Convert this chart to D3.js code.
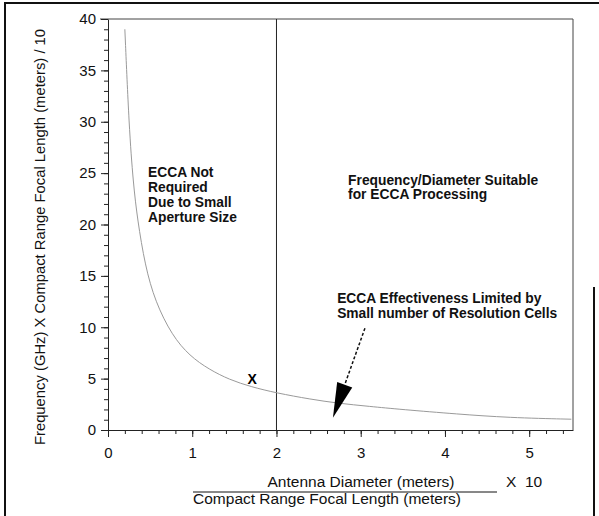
<!DOCTYPE html>
<html>
<head>
<meta charset="utf-8">
<script src="https://cdn.jsdelivr.net/npm/d3@7"></script>
<style>
  html, body { margin: 0; padding: 0; background: #fff; }
  svg { display: block; font-family: "Liberation Sans", Arial, sans-serif; }
</style>
</head>
<body>
<svg id="chart" width="599" height="516"></svg>
<script>
/* datos */
const curveX = [0.2, 0.25, 0.3, 0.35, 0.44, 0.56, 0.76, 0.97, 1.2, 1.44, 1.7, 2.0, 2.4, 2.73, 3.1, 3.48, 4.15, 4.75, 5.5]
const curveY = [39, 29.5, 24, 20.5, 16.0, 12.5, 9.2, 7.2, 5.9, 4.9, 4.2, 3.6, 3.0, 2.6, 2.3, 2.0, 1.55, 1.2, 1.05]
const xTicks = [0, 1, 2, 3, 4, 5]
const yTicks = [0, 5, 10, 15, 20, 25, 30, 35, 40]
const boundaryX = 2
const markX = [1.71]
const markY = [5.0]
const arrowFrom = [3.05, 9.9]
const arrowTo = [2.67, 1.2]
const leftNote = ['ECCA Not', 'Required', 'Due to Small', 'Aperture Size']
const rightNote = ['Frequency/Diameter Suitable', 'for ECCA Processing']
const arrowNote = ['ECCA Effectiveness Limited by', 'Small number of Resolution Cells']

const svg = d3.select('#chart')

/* escalas */
const x = d3.scaleLinear().domain([0, 5.52]).range([108, 573])
const y = d3.scaleLinear().domain([0, 40]).range([430, 19])

/* marco exterior */
svg.append('path')
  .attr('d', 'M5,516 L5,3 L599,3')
  .attr('fill', 'none').attr('stroke', '#111').attr('stroke-width', 2)
svg.append('line')
  .attr('x1', 594).attr('x2', 594).attr('y1', 287).attr('y2', 516)
  .attr('stroke', '#111').attr('stroke-width', 2)

/* borde del grafico (arriba y derecha) */
svg.append('path')
  .attr('d', `M${x(0) - 8},${y(40)} L${x(5.52)},${y(40)} L${x(5.52)},${y(0)}`)
  .attr('fill', 'none').attr('stroke', '#444').attr('stroke-width', 1)

/* ejes menores */
svg.append('g')
  .attr('transform', `translate(${x(0)},0)`)
  .call(d3.axisLeft(y).tickValues(d3.range(0, 41, 1)).tickSize(4).tickFormat(''))
  .call(g => g.select('.domain').remove())
svg.append('g')
  .attr('transform', `translate(0,${y(0)})`)
  .call(d3.axisBottom(x).tickValues(d3.range(0, 5.5, 0.2)).tickSize(4).tickFormat(''))
  .call(g => g.select('.domain').remove())

/* ejes mayores */
svg.append('g')
  .attr('transform', `translate(${x(0)},0)`)
  .call(d3.axisLeft(y).tickValues(yTicks).tickSize(7).tickPadding(5).tickSizeOuter(0).tickFormat(d3.format('d')))
svg.append('g')
  .attr('transform', `translate(0,${y(0)})`)
  .call(d3.axisBottom(x).tickValues(xTicks).tickSize(7).tickPadding(10).tickSizeOuter(0).tickFormat(d3.format('d')))

svg.selectAll('.tick text').attr('font-size', 15).attr('fill', '#111')
  .attr('font-family', '"Liberation Sans", Arial, sans-serif')
svg.selectAll('.tick line, .domain').attr('stroke', '#222')

/* linea vertical en x = 2 */
svg.append('line')
  .attr('x1', x(boundaryX)).attr('x2', x(boundaryX))
  .attr('y1', y(40)).attr('y2', y(0))
  .attr('stroke', '#222').attr('stroke-width', 1)

/* curva */
const curve = curveX.map((d, i) => [d, curveY[i]])
svg.append('path')
  .datum(curve)
  .attr('d', d3.line().x(d => x(d[0])).y(d => y(d[1])).curve(d3.curveBasis))
  .attr('fill', 'none').attr('stroke', '#9a9a9a').attr('stroke-width', 1)

/* marca X */
svg.selectAll('.mark')
  .data(markX)
  .join('text')
  .attr('class', 'mark')
  .attr('x', d => x(d))
  .attr('y', (d, i) => y(markY[i]))
  .attr('dy', '0.35em')
  .attr('text-anchor', 'middle')
  .attr('font-size', 14).attr('font-weight', 'bold')
  .text('X')

/* flecha */
const ax0 = x(arrowFrom[0]), ay0 = y(arrowFrom[1])
const ax1 = x(arrowTo[0]), ay1 = y(arrowTo[1])
const ang = Math.atan2(ay1 - ay0, ax1 - ax0)
const headLen = 35, headW = 8
const bx = ax1 - headLen * Math.cos(ang), by = ay1 - headLen * Math.sin(ang)
svg.append('line')
  .attr('x1', ax0).attr('y1', ay0).attr('x2', bx).attr('y2', by)
  .attr('stroke', '#111').attr('stroke-width', 1.5).attr('stroke-dasharray', '3,2')
svg.append('path')
  .attr('d', `M${ax1},${ay1} L${bx + headW * Math.sin(ang)},${by - headW * Math.cos(ang)} L${bx - headW * Math.sin(ang)},${by + headW * Math.cos(ang)} Z`)
  .attr('fill', '#000')

/* textos de anotacion */
function note(lines, px, py, gap) {
  svg.append('text')
    .attr('x', x(px)).attr('y', y(py))
    .attr('font-size', 13.8).attr('font-weight', 'bold').attr('fill', '#111')
    .selectAll('tspan')
    .data(lines)
    .join('tspan')
    .attr('x', x(px))
    .attr('dy', (d, i) => i === 0 ? 0 : gap)
    .text(d => d)
}
note(leftNote, 0.475, 24.6, 15)
note(rightNote, 2.85, 23.8, 14)
note(arrowNote, 2.72, 12.4, 15)

/* titulo eje Y */
svg.append('text')
  .attr('transform', 'translate(45,237) rotate(-90)')
  .attr('text-anchor', 'middle')
  .attr('font-size', 14.8).attr('fill', '#111')
  .text('Frequency (GHz) X Compact Range Focal Length (meters) / 10')

/* titulo eje X como fraccion */
svg.append('text')
  .attr('x', 361).attr('y', 487)
  .attr('text-anchor', 'middle').attr('font-size', 15.5).attr('fill', '#111')
  .text('Antenna Diameter (meters)')
svg.append('line')
  .attr('x1', 193).attr('x2', 497).attr('y1', 492).attr('y2', 492)
  .attr('stroke', '#111').attr('stroke-width', 1)
svg.append('text')
  .attr('x', 327).attr('y', 504)
  .attr('text-anchor', 'middle').attr('font-size', 15.5).attr('fill', '#111')
  .text('Compact Range Focal Length (meters)')
svg.append('text')
  .attr('x', 506).attr('y', 487)
  .attr('font-size', 15.5).attr('fill', '#111')
  .attr('xml:space', 'preserve')
  .text('X  10')
</script>
</body>
</html>
